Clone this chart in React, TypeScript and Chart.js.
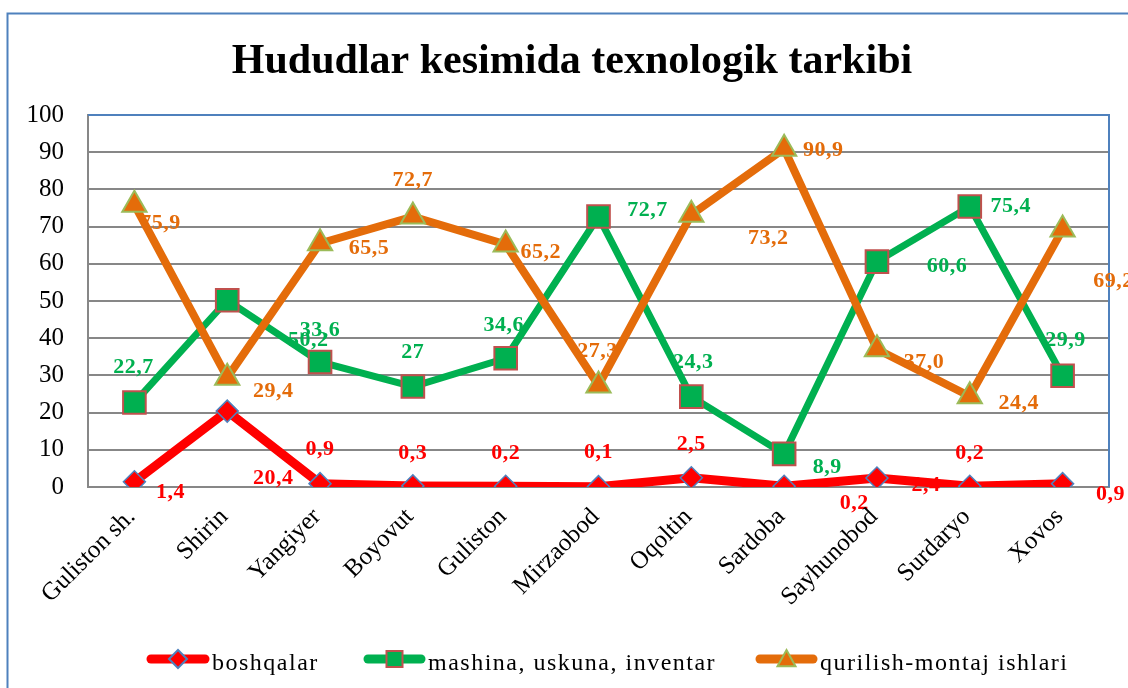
import React, { useEffect, useRef } from "react";
import { Chart, registerables } from "chart.js";
Chart.register(...registerables);

const title = "Hududlar kesimida texnologik tarkibi";
const categories = ["Guliston sh.", "Shirin", "Yangiyer", "Boyovut", "Guliston", "Mirzaobod", "Oqoltin", "Sardoba", "Sayhunobod", "Surdaryo", "Xovos"];
const seriesNames = ["boshqalar", "mashina, uskuna, inventar", "qurilish-montaj ishlari"];
const boshqalar = [1.4, 20.4, 0.9, 0.3, 0.2, 0.1, 2.5, 0.2, 2.4, 0.2, 0.9];
const mashina = [22.7, 50.2, 33.6, 27, 34.6, 72.7, 24.3, 8.9, 60.6, 75.4, 29.9];
const qurilish = [75.9, 29.4, 65.5, 72.7, 65.2, 27.3, 73.2, 90.9, 37.0, 24.4, 69.2];
const yMin = 0;
const yMax = 100;
const yStep = 10;
// decimals shown in each data label
const boshqalarDecimals = [1, 1, 1, 1, 1, 1, 1, 1, 1, 1, 1];
const mashinaDecimals = [1, 1, 1, 0, 1, 1, 1, 1, 1, 1, 1];
const qurilishDecimals = [1, 1, 1, 1, 1, 1, 1, 1, 1, 1, 1];

// label placement offsets (px, relative to each point) — styling only
const boshqalarLabelDx = [36, 46, 0, 0, 0, 0, 0, 70, 49, 0, 48];
const boshqalarLabelDy = [11, 67, -34, -33, -33, -34, -33, 17, 7, -33, 11];
const mashinaLabelDx = [-1, 81, 0, 0, -2, 49, 2, 43, 70, 41, 3];
const mashinaLabelDy = [-35, 40, -32, -34, -33, -6, -34, 13, 5, 0, -35];
const qurilishLabelDx = [26, 46, 49, 0, 35, -1, 77, 39, 47, 49, 51];
const qurilishLabelDy = [19, 14, 5, -36, 8, -34, 24, 1, 13, 7, 52];

const RED = "#ff0000";
const GREEN = "#00b050";
const ORANGE = "#e46c0a";
const BLUE = "#4f81bd";
const GRID = "#878787";
const serif = "'Liberation Serif', 'Times New Roman', serif";

const seriesStyle = [
  { color: RED, marker: "rectRot", border: BLUE, dx: boshqalarLabelDx, dy: boshqalarLabelDy, dec: boshqalarDecimals, data: boshqalar },
  { color: GREEN, marker: "rect", border: "#c0504d", dx: mashinaLabelDx, dy: mashinaLabelDy, dec: mashinaDecimals, data: mashina },
  { color: ORANGE, marker: "triangle", border: "#9bbb59", dx: qurilishLabelDx, dy: qurilishLabelDy, dec: qurilishDecimals, data: qurilish },
];

const fmt = (v: number, d: number) => v.toFixed(d).replace(".", ",");

function drawMarker(ctx: CanvasRenderingContext2D, kind: string, x: number, y: number, size: number, fill: string, stroke: string) {
  ctx.save();
  ctx.beginPath();
  if (kind === "rectRot") {
    ctx.moveTo(x - size, y);
    ctx.lineTo(x, y - size);
    ctx.lineTo(x + size, y);
    ctx.lineTo(x, y + size);
    ctx.closePath();
  } else if (kind === "rect") {
    ctx.rect(x - size, y - size, size * 2, size * 2);
  } else {
    ctx.moveTo(x, y - size * 1.1);
    ctx.lineTo(x + size, y + size * 0.7);
    ctx.lineTo(x - size, y + size * 0.7);
    ctx.closePath();
  }
  ctx.fillStyle = fill;
  ctx.fill();
  ctx.lineWidth = 2;
  ctx.strokeStyle = stroke;
  ctx.stroke();
  ctx.restore();
}

const customPlugin = {
  id: "custom",
  beforeDraw(chart: any) {
    const ctx: CanvasRenderingContext2D = chart.ctx;
    ctx.save();
    ctx.fillStyle = "#ffffff";
    ctx.fillRect(0, 0, chart.width, chart.height);
    // outer frame
    ctx.strokeStyle = BLUE;
    ctx.lineWidth = 2;
    ctx.beginPath();
    ctx.moveTo(7.5, chart.height + 2);
    ctx.lineTo(7.5, 13.5);
    ctx.lineTo(chart.width + 2, 13.5);
    ctx.stroke();
    // title
    ctx.fillStyle = "#000";
    ctx.font = `bold 42px ${serif}`;
    ctx.textAlign = "center";
    ctx.textBaseline = "alphabetic";
    ctx.fillText(title, 572, 73);
    ctx.restore();
  },
  beforeDatasetsDraw(chart: any) {
    const ctx: CanvasRenderingContext2D = chart.ctx;
    const xs = chart.scales.x;
    const ys = chart.scales.y;
    const area = chart.chartArea;
    ctx.save();
    // plot area top/right border
    ctx.strokeStyle = BLUE;
    ctx.lineWidth = 2;
    ctx.beginPath();
    ctx.moveTo(area.left, area.top);
    ctx.lineTo(area.right, area.top);
    ctx.lineTo(area.right, area.bottom);
    ctx.stroke();
    // data labels (beneath lines like the reference)
    ctx.font = `bold 22px ${serif}`;
    (ctx as any).letterSpacing = "0.5px";
    ctx.textAlign = "center";
    ctx.textBaseline = "middle";
    seriesStyle.forEach((s) => {
      ctx.fillStyle = s.color;
      s.data.forEach((v, i) => {
        const px = xs.getPixelForValue(i);
        const py = ys.getPixelForValue(v);
        ctx.fillText(fmt(v, s.dec[i]), px + s.dx[i], py + s.dy[i]);
      });
    });
    ctx.restore();
  },
  afterDraw(chart: any) {
    const ctx: CanvasRenderingContext2D = chart.ctx;
    const xs = chart.scales.x;
    ctx.save();
    // rotated category labels
    ctx.fillStyle = "#000";
    ctx.font = `25px ${serif}`;
    ctx.textAlign = "right";
    ctx.textBaseline = "middle";
    categories.forEach((c, i) => {
      const px = xs.getPixelForValue(i);
      ctx.save();
      ctx.translate(px - 3, 513);
      ctx.rotate(-Math.PI / 4);
      ctx.fillText(c, 0, 0);
      ctx.restore();
    });
    // legend
    const items = [
      { x0: 147, x1: 209, tx: 212 },
      { x0: 364, x1: 425, tx: 428 },
      { x0: 756, x1: 817, tx: 820 },
    ];
    const ly = 659;
    items.forEach((it, k) => {
      const s = seriesStyle[k];
      ctx.strokeStyle = s.color;
      ctx.lineWidth = 9;
      ctx.lineCap = "round";
      ctx.beginPath();
      ctx.moveTo(it.x0 + 4, ly);
      ctx.lineTo(it.x1 - 4, ly);
      ctx.stroke();
      const mx = (it.x0 + it.x1) / 2;
      if (s.marker === "rectRot") drawMarker(ctx, "rectRot", mx, ly, 9, s.color, s.border);
      else if (s.marker === "rect") drawMarker(ctx, "rect", mx, ly, 8, s.color, s.border);
      else drawMarker(ctx, "triangle", mx, ly + 1, 9, s.color, s.border);
      ctx.fillStyle = "#000";
      ctx.font = `24px ${serif}`;
      (ctx as any).letterSpacing = "1.5px";
      ctx.textAlign = "left";
      ctx.textBaseline = "alphabetic";
      ctx.fillText(seriesNames[k], it.tx, 670);
    });
    ctx.restore();
  },
};

export default function App() {
  const ref = useRef<HTMLCanvasElement | null>(null);
  useEffect(() => {
    if (!ref.current) return;
    const chart = new Chart(ref.current, {
      type: "line",
      data: {
        labels: categories,
        datasets: [
          {
            label: seriesNames[0],
            data: boshqalar,
            borderColor: RED,
            backgroundColor: RED,
            borderWidth: 9,
            pointStyle: "rectRot",
            pointRadius: 11,
            pointBackgroundColor: RED,
            pointBorderColor: BLUE,
            pointBorderWidth: 1.5,
            order: 2,
          },
          {
            label: seriesNames[1],
            data: mashina,
            borderColor: GREEN,
            backgroundColor: GREEN,
            borderWidth: 7,
            pointStyle: "rect",
            pointRadius: 16,
            pointBackgroundColor: GREEN,
            pointBorderColor: "#c0504d",
            pointBorderWidth: 2,
            order: 1,
          },
          {
            label: seriesNames[2],
            data: qurilish,
            borderColor: ORANGE,
            backgroundColor: ORANGE,
            borderWidth: 8,
            pointStyle: "triangle",
            pointRadius: 14,
            pointBackgroundColor: ORANGE,
            pointBorderColor: "#9bbb59",
            pointBorderWidth: 2,
            order: 0,
          },
        ],
      },
      options: {
        responsive: false,
        animation: false,
        devicePixelRatio: 1,
        layout: { padding: { left: 0, right: 19, top: 115, bottom: 0 } },
        plugins: {
          legend: { display: false },
          title: { display: false },
          tooltip: { enabled: false },
        },
        scales: {
          x: {
            type: "category",
            offset: true,
            ticks: { display: false },
            grid: { display: false, drawTicks: false },
            border: { color: GRID, width: 2 },
            afterFit: (s: any) => {
              s.height = 201;
            },
          },
          y: {
            min: yMin,
            max: yMax,
            ticks: {
              stepSize: yStep,
              color: "#000",
              padding: 24,
              font: { family: serif, size: 25 },
            },
            grid: { color: GRID, lineWidth: 2, drawTicks: false },
            border: { color: GRID, width: 2 },
            afterFit: (s: any) => {
              s.width = 88;
            },
          },
        },
      },
      plugins: [customPlugin],
    } as any);
    return () => chart.destroy();
  }, []);
  return (
    <div style={{ position: "fixed", left: 0, top: 0, width: 1128, height: 688, background: "#fff" }}>
      <canvas ref={ref} width={1128} height={688} style={{ width: 1128, height: 688, display: "block" }} />
    </div>
  );
}
